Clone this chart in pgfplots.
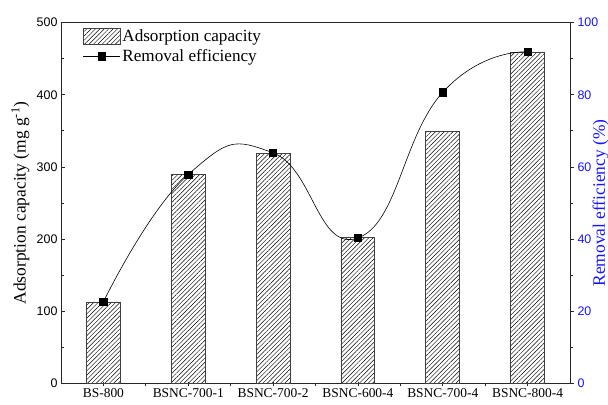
\documentclass[border=0pt]{standalone}
\usepackage{pgfplots}
\pgfplotsset{compat=1.18}
\usetikzlibrary{patterns.meta}
\usepackage{fontspec}
\setmainfont{Liberation Serif}
\newfontfamily\arial{Liberation Sans}
\definecolor{myblue}{RGB}{20,20,255}
\pgfplotsset{
  barleg/.style={legend image code/.code={\draw[##1,/tikz/.cd] (0bp,-8bp) rectangle (37bp,8bp);}},
  lineleg/.style={legend image code/.code={\draw[##1,/tikz/.cd] (0bp,0bp) -- (37bp,0bp); \path[##1,/tikz/.cd] plot coordinates {(18.5bp,0bp)};}},
}
\begin{document}
\begin{tikzpicture}
\useasboundingbox (-61bp,-21.7bp) rectangle (547bp,383.3bp);
\begin{axis}[
  at={(0,0)}, anchor=south west, scale only axis,
  width=509bp, height=360.6bp,
  xmin=-0.5, xmax=5.5, ymin=0, ymax=500,
  axis line style={line width=0.8bp, black!85},
  xtick={0,1,2,3,4,5},
  xticklabels={BS-800,BSNC-700-1,BSNC-700-2,BSNC-600-4,BSNC-700-4,BSNC-800-4},
  minor xtick={0.5,1.5,2.5,3.5,4.5},
  xtick pos=bottom,
  x tick style={yshift=-3bp},
  x tick label style={font=\fontsize{13.5}{13.5}\selectfont, yshift=-2bp},
  ytick={0,100,...,500},
  minor ytick={50,150,...,450},
  ytick pos=left,
  tick align=inside,
  major tick length=4bp, minor tick length=3bp,
  tick style={line width=0.8bp, black!85},
  /pgf/number format/assume math mode=true,
  y tick label style={font=\arial\fontsize{12.5}{12.5}\selectfont},
  ylabel={Adsorption capacity (mg g\textsuperscript{-1})},
  ylabel style={font=\fontsize{17.5}{17.5}\selectfont, at={(axis description cs:-0.08,0.5)}, anchor=center},
  legend style={draw=none, fill=none, at={(axis description cs:0.043,0.985)}, anchor=north west, inner sep=0pt,
    font=\fontsize{17.2}{17.2}\selectfont, row sep=3bp, nodes={inner sep=1.5bp}},
  legend cell align=left,
]
\addplot[ybar, bar width=0.4, bar shift=0, draw=black!75, line width=0.8bp,
  pattern={Lines[angle=45,distance=3.1bp,line width=0.45bp]}, barleg]
  coordinates {(0,112.8) (1,289.6) (2,318.9) (3,202.4) (4,349.7) (5,458.4)};
\addlegendentry{Adsorption capacity}
\addlegendimage{black, line width=0.6bp, mark=square*, mark size=3.7bp, lineleg}
\addlegendentry{Removal efficiency}
\end{axis}
\begin{axis}[
  at={(0,0)}, anchor=south west, scale only axis,
  width=509bp, height=360.6bp,
  xmin=-0.5, xmax=5.5, ymin=0, ymax=100,
  axis x line=none, axis y line*=right,
  axis line style={line width=0.8bp, black!85},
  ytick={0,20,...,100},
  minor ytick={10,30,...,90},
  tick align=outside,
  major tick length=4bp, minor tick length=3bp,
  tick style={line width=0.8bp, black!85},
  /pgf/number format/assume math mode=true,
  y tick label style={font=\arial\fontsize{12.5}{12.5}\selectfont, text=myblue},
  ylabel={Removal efficiency (\%)},
  ylabel style={font=\fontsize{17.5}{17.5}\selectfont, text=myblue, at={(axis description cs:1.06,0.5)}, anchor=center},
]
\addplot[black, line width=0.6bp, smooth, tension=0.85, mark=square*, mark size=3.7bp, mark options={solid, fill=black}]
  coordinates {(0,22.6) (1,57.9) (2,63.9) (3,40.3) (4,80.7) (5,91.9)};
\end{axis}
\end{tikzpicture}
\end{document}
